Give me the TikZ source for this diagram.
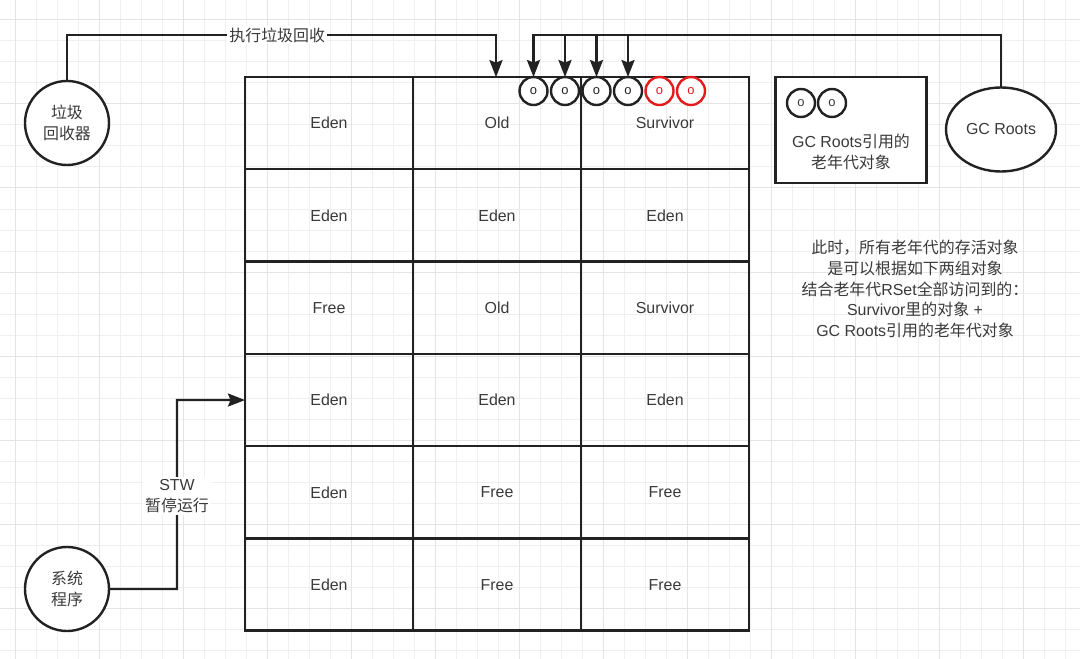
\documentclass[tikz,border=0pt]{standalone}
\usepackage{fontspec}
\setmainfont{Liberation Sans}
\newfontfamily\cjk{Noto Sans CJK SC}
\usetikzlibrary{arrows.meta,shapes.geometric}
\definecolor{InkGray}{HTML}{222222}
\definecolor{TextGray}{HTML}{3A3A3A}
\definecolor{GridGray}{HTML}{EFEFEF}
\definecolor{GridDark}{HTML}{E4E4E4}
\definecolor{AliveRed}{HTML}{E31B1B}

\begin{document}
\begin{tikzpicture}[x=1bp,y=-1bp,>={Stealth[length=17bp,width=13bp,inset=2.5bp]},
 line width=2.4bp,font=\fontsize{16}{21}\selectfont,
 cell/.style={minimum width=168bp,minimum height=92bp,inner sep=0pt,outer sep=0pt,text=TextGray},
 obj/.style={circle,draw=InkGray,fill=white,minimum size=28bp,inner sep=0pt,outer sep=0pt,font=\fontsize{13}{13}\selectfont,text=TextGray},
 actor/.style={circle,draw=InkGray,fill=white,minimum size=84bp,outer sep=0pt,align=center,text=TextGray,font=\fontsize{16}{21}\selectfont\cjk},
 edgelabel/.style={fill=white,align=center,text=TextGray,inner sep=2pt}]
\useasboundingbox (0,0) rectangle (1080,659);
\fill[white] (0,0) rectangle (1080,659);
\foreach \x in {15,36,...,1080} \draw[GridGray,line width=1bp] (\x,0)--(\x,659);
\foreach \y in {20,41,...,659} \draw[GridGray,line width=1bp] (0,\y)--(1080,\y);
\foreach \x in {15,99,...,1080} \draw[GridDark,line width=1bp] (\x,0)--(\x,659);
\foreach \y in {20,104,...,659} \draw[GridDark,line width=1bp] (0,\y)--(1080,\y);
\foreach \r/\ta/\tb/\tc in {1/Eden/Old/Survivor,2/Eden/Eden/Eden,3/Free/Old/Survivor,4/Eden/Eden/Eden,5/Eden/Free/Free,6/Eden/Free/Free}
 \foreach \c/\t in {1/\ta,2/\tb,3/\tc}
  \node[cell] (c-\r-\c) at ({245+168*(\c-0.5)},{77+92.3*(\r-0.5)}) {\t};
\draw[InkGray] (c-1-1.north west) rectangle (c-6-3.south east);
\foreach \c in {1,2} \draw[InkGray] (c-1-\c.north east) -- (c-6-\c.south east);
\foreach \r in {1,...,5} \draw[InkGray] (c-\r-1.south west) -- (c-\r-3.south east);
\foreach \i/\x/\col in {1/533.5/InkGray,2/565/InkGray,3/596.5/InkGray,4/628/InkGray,5/659.5/AliveRed,6/691/AliveRed}
 \node[obj,draw=\col,text=\col] (o\i) at (\x,91) {o};
\node[actor] (gc) at (67,123) {垃圾\\回收器};
\node[actor] (sys) at (67,589) {系统\\程序};
\node[ellipse,draw=InkGray,fill=white,minimum width=110bp,minimum height=84bp,outer sep=0pt,text=TextGray] (roots) at (1001,129.5) {GC Roots};
\node[draw=InkGray,fill=white,minimum width=151bp,minimum height=106bp,inner sep=0pt] (legend) at (851,130) {};
\node[obj] (l1) at (801,103) {o};
\node[obj] (l2) at (832,103) {o};
\node[align=center,text=TextGray] (legendtxt) at (851,152) {GC Roots{\cjk 引用的}\\{\cjk 老年代对象}};
\node[align=center,text=TextGray] (note) at (915,289) {{\cjk 此时，所有老年代的存活对象}\\{\cjk 是可以根据如下两组对象}\\{\cjk 结合老年代}RSet{\cjk 全部访问到的：}\\Survivor{\cjk 里的对象} +\\GC Roots{\cjk 引用的老年代对象}};
\coordinate (gcbend) at (496,35);
\coordinate (rootsbend) at (533.5,35);
\coordinate (stwbend) at (177,400);
\draw[->,InkGray] (gc.north) |- node[pos=0.745,edgelabel]{\cjk 执行垃圾回收} (gcbend) -- (gcbend |- c-1-2.north);
\draw[->,InkGray] (roots.north) |- (rootsbend) -- (o1.north);
\foreach \i in {2,3,4} \draw[->,InkGray] ([yshift=-1.2bp]o\i |- rootsbend) -- (o\i.north);
\draw[->,InkGray] (sys.east) -| node[pos=0.746,edgelabel]{STW\\{\cjk 暂停运行}} (stwbend) -- (c-4-1.west);
\end{tikzpicture}
\end{document}
